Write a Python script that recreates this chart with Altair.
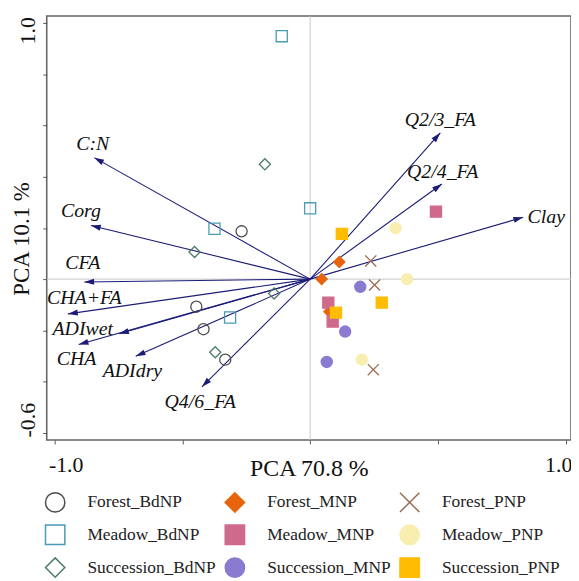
import altair as alt
import pandas as pd
import numpy as np

# ---- sample scores (PCA axis 1, axis 2) ----
# order = legend order (legend fills column by column)
groups = ["Forest_BdNP", "Meadow_BdNP", "Succession_BdNP",
          "Forest_MNP", "Meadow_MNP", "Succession_MNP",
          "Forest_PNP", "Meadow_PNP", "Succession_PNP"]

forest_bdnp_x = [-0.268, -0.445, -0.417, -0.332]
forest_bdnp_y = [0.187, -0.108, -0.196, -0.315]
meadow_bdnp_x = [-0.111, -0.374, 0.000, -0.313]
meadow_bdnp_y = [0.950, 0.197, 0.277, -0.150]
succession_bdnp_x = [-0.177, -0.452, -0.141, -0.371]
succession_bdnp_y = [0.449, 0.106, -0.056, -0.286]
forest_mnp_x = [0.114, 0.045, 0.075]
forest_mnp_y = [0.067, 0.000, -0.127]
meadow_mnp_x = [0.492, 0.071, 0.088]
meadow_mnp_y = [0.264, -0.092, -0.166]
succession_mnp_x = [0.196, 0.137, 0.065]
succession_mnp_y = [-0.030, -0.205, -0.324]
forest_pnp_x = [0.237, 0.252, 0.247]
forest_pnp_y = [0.071, -0.023, -0.354]
meadow_pnp_x = [0.334, 0.379, 0.202]
meadow_pnp_y = [0.199, 0.000, -0.315]
succession_pnp_x = [0.124, 0.280, 0.101]
succession_pnp_y = [0.177, -0.092, -0.131]

# ---- loadings (arrows) ----
variables = ["C:N", "Corg", "CFA", "CHA+FA", "ADIwet", "CHA", "ADIdry",
             "Q4/6_FA", "Q2/3_FA", "Q2/4_FA", "Clay"]
load_x = [-0.844, -0.857, -0.883, -0.947, -0.747, -0.905, -0.682, -0.423, 0.509, 0.515, 0.833]
load_y = [0.475, 0.210, -0.011, -0.136, -0.214, -0.256, -0.302, -0.421, 0.572, 0.372, 0.242]
label_x = [-0.850, -0.896, -0.889, -0.883, -0.889, -0.913, -0.695, -0.430, 0.509, 0.518, 0.923]
label_y = [0.529, 0.265, 0.061, -0.075, -0.195, -0.312, -0.360, -0.480, 0.624, 0.419, 0.242]

# ---- styling per group (same order as groups) ----
X_PATH = "M-1,-1L1,1M1,-1L-1,1"
shapes = ["circle", "square", "diamond",
          "diamond", "square", "circle",
          X_PATH, "circle", "square"]
strokes = ["#4d4d4d", "#4a9bb5", "#4e7a68",
           "#e8640c", "#d06a8c", "#8a7ad0",
           "#9b6b53", "#f7eeb0", "#ffbc00"]
fills = ["transparent", "transparent", "transparent",
         "#e8640c", "#d06a8c", "#8a7ad0",
         "transparent", "#f7eeb0", "#ffbc00"]

xs = [forest_bdnp_x, meadow_bdnp_x, succession_bdnp_x, forest_mnp_x, meadow_mnp_x,
      succession_mnp_x, forest_pnp_x, meadow_pnp_x, succession_pnp_x]
ys = [forest_bdnp_y, meadow_bdnp_y, succession_bdnp_y, forest_mnp_y, meadow_mnp_y,
      succession_mnp_y, forest_pnp_y, meadow_pnp_y, succession_pnp_y]

rows = []
for g, gx, gy in zip(groups, xs, ys):
    for a, b in zip(gx, gy):
        rows.append({"group": g, "pc1": a, "pc2": b})
pts = pd.DataFrame(rows)

arr = pd.DataFrame({"var": variables, "x": load_x, "y": load_y,
                    "lx": label_x, "ly": label_y})
zero = pd.DataFrame({"v": [0]})

FONT = "Liberation Serif"
NAVY = "#1c1c78"
XDOM = [-1.03, 1.02]
YDOM = [-0.629, 1.029]

xscale = alt.Scale(domain=XDOM, nice=False, zero=False)
yscale = alt.Scale(domain=YDOM, nice=False, zero=False)

xaxis = alt.Axis(
    values=[-1, -0.5, 0, 0.5, 1],
    labelExpr="datum.value == -1 ? '-1.0' : (datum.value == 1 ? '1.0' : '')",
    labelFont=FONT, labelFontSize=22, labelColor="#111",
    labelFlush=10, labelFlushOffset=6, labelBaseline="alphabetic", labelPadding=28,
    tickSize=4, tickColor="#555", domain=False, grid=False,
    title="PCA 70.8 %", titleFont=FONT, titleFontSize=24, titleFontWeight="normal",
    titleColor="#111", titleY=36, titleBaseline="alphabetic",
)
yaxis = alt.Axis(
    values=[-0.6, -0.4, -0.2, 0, 0.2, 0.4, 0.6, 0.8, 1.0],
    labelExpr="datum.value == 1 ? '1.0' : (abs(datum.value + 0.6) < 0.000001 ? '-0.6' : '')",
    labelFont=FONT, labelFontSize=22, labelColor="#111", labelAngle=270,
    labelAlign="center", labelBaseline="alphabetic", labelPadding=8, labelFlush=False,
    labelOffset={"condition": {"test": "datum.value > 0", "value": 7}, "value": -13},
    tickSize=4, tickColor="#555", domain=False, grid=False,
    title="PCA 10.1 %", titleFont=FONT, titleFontSize=23, titleFontWeight="normal",
    titleColor="#111", titleAngle=270, titleX=-18, titleY=224,
    titleBaseline="alphabetic", titleAlign="center",
)

zx = alt.Chart(zero).mark_rule(color="#c8c8c8", strokeWidth=1).encode(
    x=alt.X("v:Q", scale=xscale, axis=xaxis))
zy = alt.Chart(zero).mark_rule(color="#c8c8c8", strokeWidth=1).encode(
    y=alt.Y("v:Q", scale=yscale, axis=yaxis))

base_arr = alt.Chart(arr).transform_calculate(o="0")
lines = base_arr.mark_rule(color=NAVY, strokeWidth=1.1).encode(
    x=alt.X("o:Q", scale=xscale), y=alt.Y("o:Q", scale=yscale),
    x2="x:Q", y2="y:Q")
heads = alt.Chart(arr).transform_calculate(
    ang="(atan2(datum.x, datum.y) * 180 / PI + 360) % 360"
).mark_point(shape="M0,0L0.55,1.8L-0.55,1.8Z", filled=True, size=120,
             color=NAVY, opacity=1).encode(
    x=alt.X("x:Q", scale=xscale), y=alt.Y("y:Q", scale=yscale),
    angle=alt.Angle("ang:Q", scale=None))
labels = alt.Chart(arr).mark_text(font=FONT, fontSize=20, fontStyle="italic",
                                  color="#111", align="center", baseline="middle").encode(
    x=alt.X("lx:Q", scale=xscale), y=alt.Y("ly:Q", scale=yscale), text="var:N")

points = alt.Chart(pts).mark_point(size=125, strokeWidth=1.3, opacity=1,
                                   fillOpacity=1, strokeOpacity=1).encode(
    x=alt.X("pc1:Q", scale=xscale),
    y=alt.Y("pc2:Q", scale=yscale),
    shape=alt.Shape("group:N", scale=alt.Scale(domain=groups, range=shapes),
                    sort=groups, legend=alt.Legend(title=None)),
    stroke=alt.Stroke("group:N", scale=alt.Scale(domain=groups, range=strokes),
                      sort=groups, legend=alt.Legend(title=None)),
    fill=alt.Fill("group:N", scale=alt.Scale(domain=groups, range=fills),
                  sort=groups, legend=alt.Legend(title=None)),
)

chart = alt.layer(zx, zy, lines, heads, labels, points).properties(
    width=528, height=427,
    autosize=alt.AutoSizeParams(type="none"),
    padding={"left": 39, "top": 6, "right": 0, "bottom": 140},
).configure_view(
    stroke="#666", strokeWidth=1.6
).configure_legend(
    orient="none", legendX=-2, legendY=479, columns=3,
    symbolSize=380, symbolStrokeWidth=1.5,
    labelFont=FONT, labelFontSize=17.5, labelColor="#222",
    labelOffset=22, rowPadding=6, columnPadding=5, padding=0,
    labelLimit=300,
)

chart.save("out.html", embed_options={"renderer": "svg", "actions": False})
